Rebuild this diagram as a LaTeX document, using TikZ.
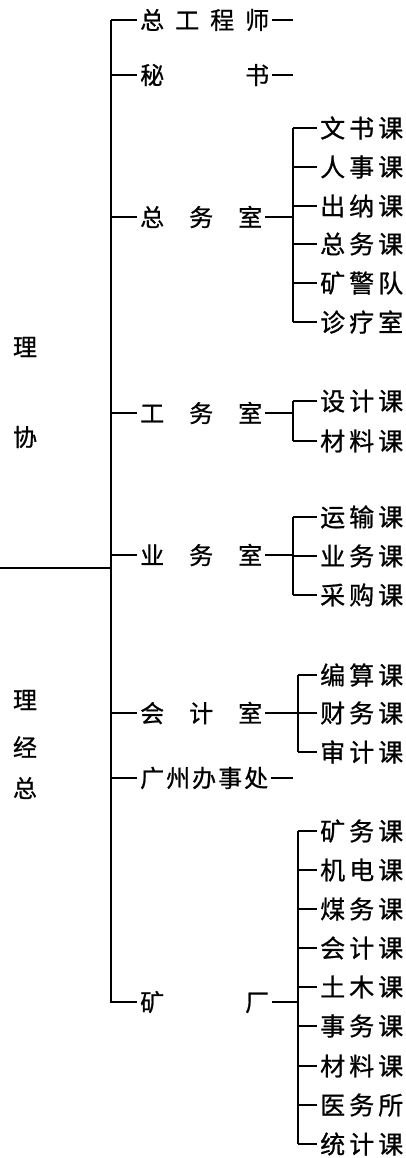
\documentclass[tikz,border=0pt]{standalone}
\usepackage{fontspec}
\newfontfamily\cjk[FakeBold=0.8]{Noto Sans CJK SC}
\newcommand{\trio}[3]{#1\kern4pt#2\kern4pt#3}
\begin{document}
\begin{tikzpicture}[x=1pt,y=-1pt,
  conn/.style={line width=1.4pt},
  lbl/.style={inner sep=0pt,anchor=west,font=\cjk\fontsize{24pt}{24pt}\selectfont},
  sublbl/.style={inner sep=0pt,anchor=west,font=\cjk\fontsize{25pt}{25pt}\selectfont},
  rootlbl/.style={inner sep=0pt,font=\cjk\fontsize{24pt}{24pt}\selectfont},
  toin/.style={conn,shorten >=3pt},
  fromout/.style={conn,shorten <=3pt}]
\useasboundingbox (0,0) rectangle (405,1158);

% root labels
\node[rootlbl] (xl1) at (25,347) {理};
\node[rootlbl] (xl2) at (25,437) {协};
\node[rootlbl] (zj1) at (25,700) {理};
\node[rootlbl] (zj2) at (25,747) {经};
\node[rootlbl] (zj3) at (25,788) {总};
\coordinate (r0) at (0,568);
\coordinate (r1) at (111,568);
\draw[conn] (r0) -- (r1);

% trunk
\coordinate (ttop) at (111,20);
\coordinate (tbot) at (111,1003);
\draw[conn] (ttop) -- (tbot);

% level 1
\node[lbl] (a1) at (140,20) {总\hspace{11pt}工\hspace{11pt}程\hspace{11pt}师};
\node[lbl] (a2) at (140,75) {秘\hspace{81pt}书};
\node[lbl] (a3) at (140,217) {总\hspace{25pt}务\hspace{25pt}室};
\node[lbl] (a4) at (140,413) {工\hspace{25pt}务\hspace{25pt}室};
\node[lbl] (a5) at (140,555) {业\hspace{25pt}务\hspace{25pt}室};
\node[lbl] (a6) at (140,713) {会\hspace{25pt}计\hspace{25pt}室};
\node[lbl] (a7) at (140,778) {广\hspace{2pt}州\hspace{2pt}办\hspace{2pt}事\hspace{2pt}处};
\node[lbl] (a8) at (140,1002) {矿\hspace{81pt}厂};
\foreach \n in {a1,a2,a3,a4,a5,a6,a7,a8}
  \draw[toin] (ttop |- \n.west) -- (\n.west);

% trailing dashes
\coordinate (e1) at (293,20);
\coordinate (e2) at (293,75);
\coordinate (e7) at (293,778);
\draw[fromout] (a1.east) -- (e1);
\draw[fromout] (a2.east) -- (e2);
\draw[fromout] (a7.east) -- (e7);

% group 总务室
\coordinate (s3t) at (293,128);
\coordinate (s3b) at (293,322);
\draw[conn] (s3t) -- (s3b);
\draw[fromout] (a3.east) -- (s3t |- a3.east);
\node[sublbl] (c31) at (320,128) {\trio{文}{书}{课}};
\node[sublbl] (c32) at (320,167) {\trio{人}{事}{课}};
\node[sublbl] (c33) at (320,206) {\trio{出}{纳}{课}};
\node[sublbl] (c34) at (320,244) {\trio{总}{务}{课}};
\node[sublbl] (c35) at (320,283) {\trio{矿}{警}{队}};
\node[sublbl] (c36) at (320,322) {\trio{诊}{疗}{室}};
\foreach \n in {c31,c32,c33,c34,c35,c36}
  \draw[toin] (s3t |- \n.west) -- (\n.west);

% group 工务室
\coordinate (s4t) at (293,401);
\coordinate (s4b) at (293,441);
\draw[conn] (s4t) -- (s4b);
\draw[fromout] (a4.east) -- (s4t |- a4.east);
\node[sublbl] (c41) at (320,401) {\trio{设}{计}{课}};
\node[sublbl] (c42) at (320,441) {\trio{材}{料}{课}};
\foreach \n in {c41,c42}
  \draw[toin] (s4t |- \n.west) -- (\n.west);

% group 业务室
\coordinate (s5t) at (293,517);
\coordinate (s5b) at (293,595);
\draw[conn] (s5t) -- (s5b);
\draw[fromout] (a5.east) -- (s5t |- a5.east);
\node[sublbl] (c51) at (320,517) {\trio{运}{输}{课}};
\node[sublbl] (c52) at (320,556) {\trio{业}{务}{课}};
\node[sublbl] (c53) at (320,595) {\trio{采}{购}{课}};
\foreach \n in {c51,c52,c53}
  \draw[toin] (s5t |- \n.west) -- (\n.west);

% group 会计室
\coordinate (s6t) at (298,675);
\coordinate (s6b) at (298,752);
\draw[conn] (s6t) -- (s6b);
\draw[fromout] (a6.east) -- (s6t |- a6.east);
\node[sublbl] (c61) at (320,675) {\trio{编}{算}{课}};
\node[sublbl] (c62) at (320,713) {\trio{财}{务}{课}};
\node[sublbl] (c63) at (320,752) {\trio{审}{计}{课}};
\foreach \n in {c61,c62,c63}
  \draw[toin] (s6t |- \n.west) -- (\n.west);

% group 矿厂
\coordinate (s8t) at (298,831);
\coordinate (s8b) at (298,1144);
\draw[conn] (s8t) -- (s8b);
\draw[fromout] (a8.east) -- (s8t |- a8.east);
\node[sublbl] (c81) at (320,831) {\trio{矿}{务}{课}};
\node[sublbl] (c82) at (320,870) {\trio{机}{电}{课}};
\node[sublbl] (c83) at (320,909) {\trio{煤}{务}{课}};
\node[sublbl] (c84) at (320,948) {\trio{会}{计}{课}};
\node[sublbl] (c85) at (320,987) {\trio{土}{木}{课}};
\node[sublbl] (c86) at (320,1026) {\trio{事}{务}{课}};
\node[sublbl] (c87) at (320,1066) {\trio{材}{料}{课}};
\node[sublbl] (c88) at (320,1105) {\trio{医}{务}{所}};
\node[sublbl] (c89) at (320,1144) {\trio{统}{计}{课}};
\foreach \n in {c81,c82,c83,c84,c85,c86,c87,c88,c89}
  \draw[toin] (s8t |- \n.west) -- (\n.west);
\end{tikzpicture}
\end{document}
